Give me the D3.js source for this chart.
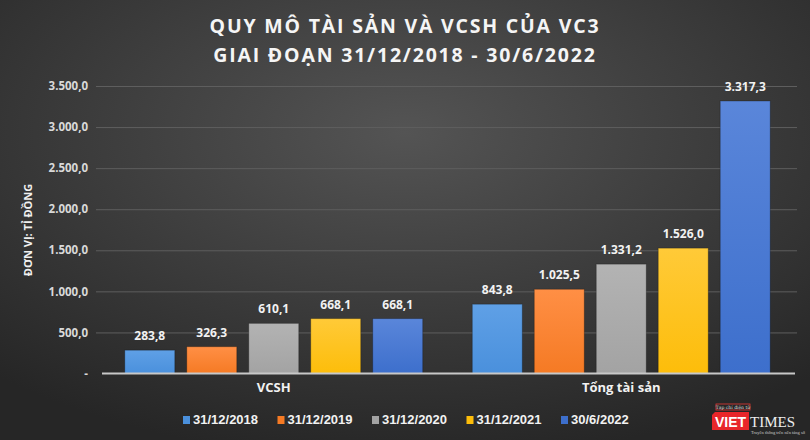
<!DOCTYPE html>
<html><head><meta charset="utf-8">
<script src="https://cdn.jsdelivr.net/npm/d3@7"></script>
<style>html,body{margin:0;padding:0;background:#333;}svg{display:block;}</style>
</head><body>
<svg id="chart" width="810" height="440"></svg>
<script>
const groups = ["VCSH", "Tổng tài sản"];
const periods = ["31/12/2018", "31/12/2019", "31/12/2020", "31/12/2021", "30/6/2022"];
const vcsh = [283.8, 326.3, 610.1, 668.1, 668.1];
const tongTaiSan = [843.8, 1025.5, 1331.2, 1526.0, 3317.3];
const yTicks = [0, 500, 1000, 1500, 2000, 2500, 3000, 3500];
const colors = ["#4a90dc", "#f57a24", "#a3a3a3", "#fdbd0a", "#3d6fcc"];
const colorsTop = ["#5fa0e6", "#ff8f45", "#b3b3b3", "#ffca38", "#5a86da"];

const seriesByGroup = [vcsh, tongTaiSan];
const data = groups.map((g, gi) => ({group: g, values: periods.map((p, pi) => ({period: p, i: pi, value: seriesByGroup[gi][pi]}))}));

const svg = d3.select("#chart");
const W = 810, H = 440;
const defs = svg.append("defs");
const bg = defs.append("radialGradient").attr("id","bg").attr("cx","50%").attr("cy","30%").attr("r","75%");
bg.append("stop").attr("offset","0%").attr("stop-color","#545454");
bg.append("stop").attr("offset","100%").attr("stop-color","#262626");
colors.forEach((c,i)=>{
  const g = defs.append("linearGradient").attr("id","bar"+i).attr("x1",0).attr("y1",0).attr("x2",0).attr("y2",1);
  g.append("stop").attr("offset","0%").attr("stop-color",colorsTop[i]);
  g.append("stop").attr("offset","100%").attr("stop-color",c);
});
svg.append("rect").attr("width",W).attr("height",H).attr("fill","url(#bg)");

const m = {left:100, right:15, top:86, bottom:66.5};
const x0 = d3.scaleBand().domain(groups).range([m.left, W - m.right]).padding(0);
const x1 = d3.scaleBand().domain(periods).range([0, x0.bandwidth()]).paddingInner(0.1935).paddingOuter(0.4);
const y = d3.scaleLinear().domain([0, 3500]).range([H - m.bottom, m.top]);

const fmt = v => {
  if (v === 0) return "-";
  const s = v.toFixed(1).split(".");
  return s[0].replace(/\B(?=(\d{3})+(?!\d))/g, ".") + "," + s[1];
};

// grid
const grid = svg.append("g").attr("transform","translate(96,0)")
  .call(d3.axisLeft(y).tickValues(yTicks.filter(t=>t>0)).tickSize(-(W - m.right + 2 - 96)).tickFormat(""));
grid.select(".domain").remove();
grid.selectAll("line").attr("stroke","#5e5e5e").attr("stroke-width",1);

// y axis labels
const yAxis = svg.append("g").attr("transform",`translate(88,0)`)
  .call(d3.axisLeft(y).tickValues(yTicks).tickSize(0).tickPadding(0).tickFormat(fmt));
yAxis.select(".domain").remove();
yAxis.selectAll("text").attr("fill","#d9d9d9").attr("font-family","'Open Sans', sans-serif")
  .attr("font-weight","700").attr("font-size","11.5px");

// bars
const gG = svg.selectAll(".grp").data(data).join("g").attr("class","grp")
  .attr("transform", d => `translate(${x0(d.group)},0)`);
gG.selectAll("rect").data(d => d.values).join("rect")
  .attr("x", d => x1(d.period)).attr("width", x1.bandwidth())
  .attr("y", d => y(d.value)).attr("height", d => y(0) - y(d.value))
  .attr("fill", d => `url(#bar${d.i})`)
  .attr("stroke","rgba(0,0,0,0.25)").attr("stroke-width",1);
gG.selectAll("text.val").data(d => d.values).join("text").attr("class","val")
  .attr("x", d => x1(d.period) + x1.bandwidth()/2).attr("y", d => y(d.value) - 10)
  .attr("text-anchor","middle").attr("fill","#f2f2f2")
  .attr("font-family","'Open Sans', sans-serif").attr("font-weight","700").attr("font-size","12px")
  .text(d => fmt(d.value));

// baseline
svg.append("line").attr("x1",102).attr("x2",W - m.right).attr("y1",y(0)).attr("y2",y(0))
  .attr("stroke","#c8c8c8").attr("stroke-width",2);

// x axis labels
const xAxis = svg.append("g").attr("transform",`translate(0,${y(0)})`)
  .call(d3.axisBottom(x0).tickSize(0).tickPadding(9));
xAxis.select(".domain").remove();
xAxis.selectAll("text").attr("fill","#f2f2f2").attr("font-family","'Open Sans', sans-serif")
  .attr("font-weight","700").attr("font-size","13px");

// y title
svg.append("text").attr("transform","translate(32,230) rotate(-90)").attr("text-anchor","middle")
  .attr("fill","#f0f0f0").attr("font-family","'Open Sans', sans-serif").attr("font-weight","700")
  .attr("font-size","11px").text("ĐƠN VỊ: TỈ ĐỒNG");

// title
const title = svg.append("text").attr("text-anchor","middle").attr("fill","#f5f5f5")
  .attr("font-family","'Open Sans', sans-serif").attr("font-weight","700").attr("font-size","19.5px")
  .attr("letter-spacing","1.8px");
title.append("tspan").attr("x",405).attr("y",33).text("QUY MÔ TÀI SẢN VÀ VCSH CỦA VC3");
title.append("tspan").attr("x",405).attr("y",62).text("GIAI ĐOẠN 31/12/2018 - 30/6/2022");

// legend
const lg = svg.append("g").selectAll("g").data(periods).join("g")
  .attr("transform",(d,i)=>`translate(${183 + i*94.5},416)`);
lg.append("rect").attr("width",7).attr("height",8).attr("fill",(d,i)=>colors[i]);
lg.append("text").attr("x",10).attr("y",8).attr("fill","#f2f2f2")
  .attr("font-family","'Liberation Sans', Arial, sans-serif").attr("font-weight","700").attr("font-size","13px")
  .text(d=>d);

// logo
const logo = svg.append("g").attr("transform","translate(712,404)");
logo.append("rect").attr("x",4).attr("y",0).attr("width",34).attr("height",6).attr("fill","none").attr("stroke","#e53935").attr("stroke-width",0.8);
logo.append("text").attr("x",21).attr("y",5).attr("text-anchor","middle").attr("fill","#ddd").attr("font-size","4.5px").attr("font-family","'DejaVu Serif', serif").text("Tạp chí điện tử");
logo.append("path").attr("d","M3,8 L37,8 L37,26 L0,26 L0,11 Z").attr("fill","#e8262a");
logo.append("text").attr("x",18.5).attr("y",23).attr("text-anchor","middle").attr("fill","#fff").attr("font-family","'Liberation Sans', Arial, sans-serif").attr("font-weight","700").attr("font-size","14px").text("VIET");
logo.append("text").attr("x",38).attr("y",23).attr("fill","#eee").attr("font-family","'Liberation Serif', serif").attr("font-size","15px").text("TIMES");
logo.append("text").attr("x",39).attr("y",30).attr("fill","#ccc").attr("font-family","'Liberation Serif', serif").attr("font-size","4.5px").text("Truyền thông trên nền tảng số");
</script>
</body></html>
